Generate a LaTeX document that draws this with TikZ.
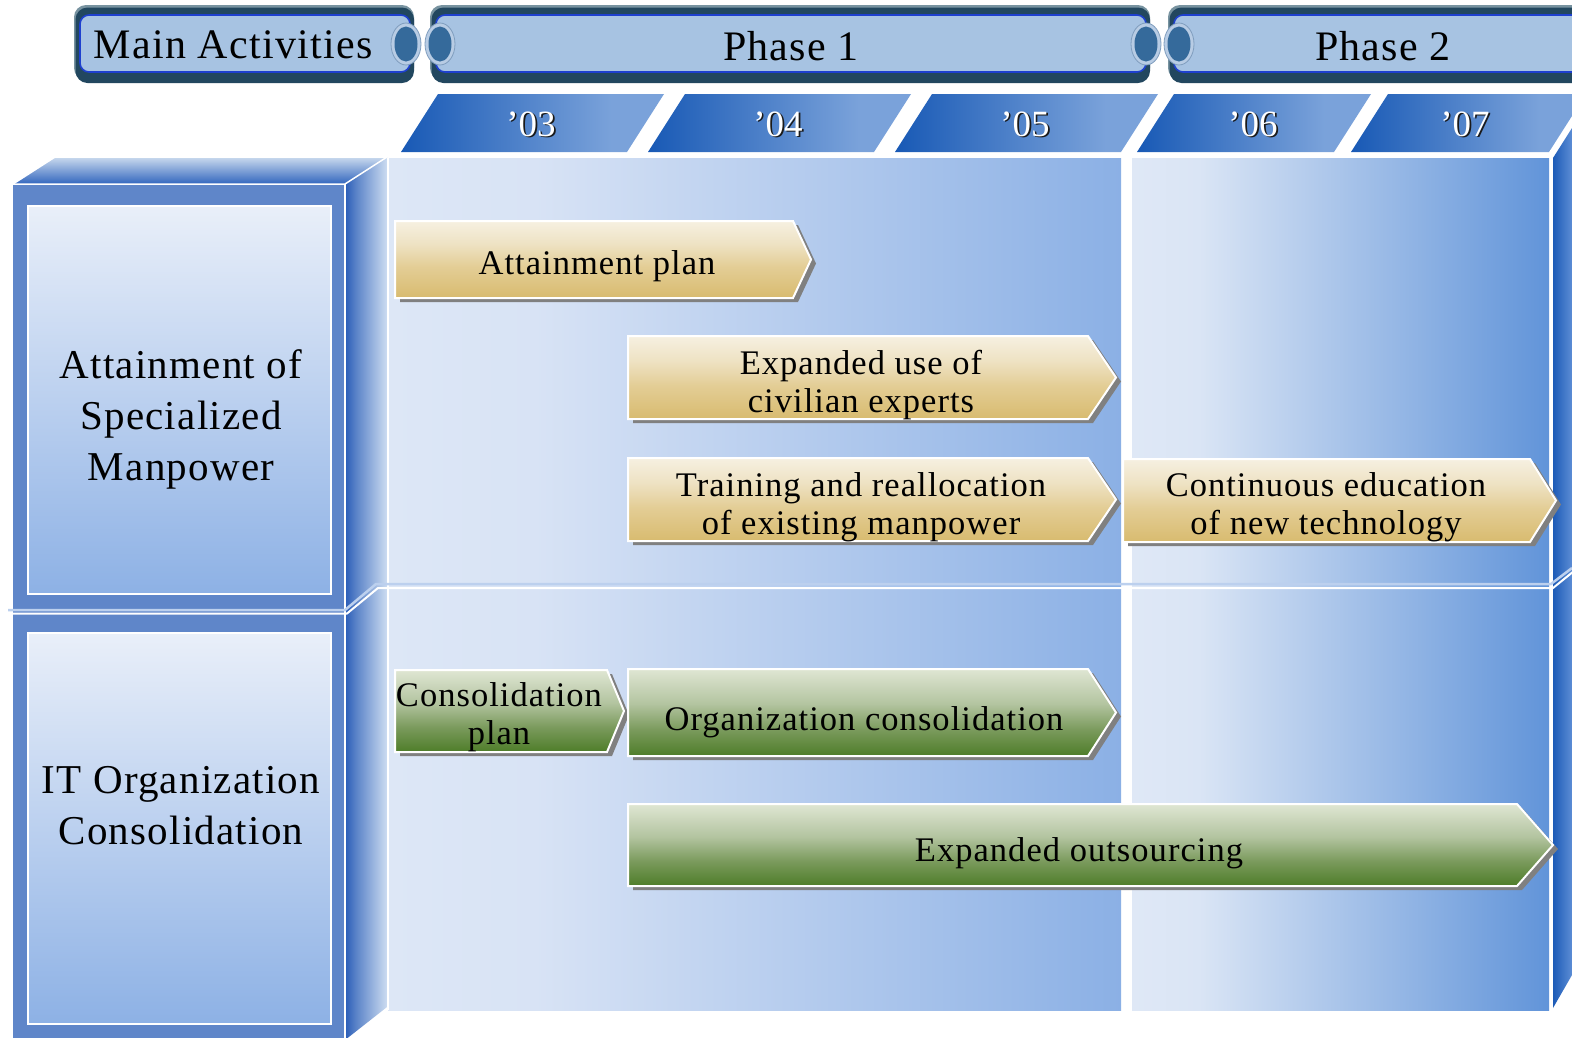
\documentclass[tikz,border=0pt]{standalone}
\usepackage{fontspec}
\setmainfont{Liberation Serif}[LetterSpace=3]
\newfontfamily\yearfont{Liberation Serif}
\usetikzlibrary{calc}

\definecolor{hdrHi}{HTML}{7893A0}
\definecolor{hdrDark}{HTML}{22475F}
\definecolor{hdrFill}{HTML}{A7C3E2}
\definecolor{hdrLine}{HTML}{1E40CF}
\definecolor{ringC}{HTML}{B8CCE4}
\definecolor{ringEdge}{HTML}{7F9DBE}
\definecolor{ellC}{HTML}{356A9B}
\definecolor{pA1}{HTML}{DDE7F6}
\definecolor{pA2}{HTML}{D8E3F5}
\definecolor{pA3}{HTML}{8BB0E5}
\definecolor{pB1}{HTML}{DFE8F6}
\definecolor{pB2}{HTML}{DAE5F5}
\definecolor{pB3}{HTML}{6194D9}
\definecolor{tab1}{HTML}{1859B5}
\definecolor{tab2}{HTML}{7AA2DA}
\definecolor{frontBlue}{HTML}{5F86C9}
\definecolor{inTop}{HTML}{E9EFF9}
\definecolor{inBot}{HTML}{8DB1E5}
\definecolor{topTop}{HTML}{CADAEE}
\definecolor{topBot}{HTML}{3266BE}
\definecolor{side1}{HTML}{2A5DB8}
\definecolor{side2}{HTML}{5A83C8}
\definecolor{side3}{HTML}{CCDCF1}
\definecolor{rf1}{HTML}{1D5BB7}
\definecolor{rf2}{HTML}{5C8DD5}
\definecolor{gold1}{HTML}{D8BB6F}
\definecolor{gold2}{HTML}{E3CD95}
\definecolor{gold3}{HTML}{EEE2C3}
\definecolor{gold4}{HTML}{F6F0E1}
\definecolor{green1}{HTML}{4E7D29}
\definecolor{green2}{HTML}{7A9A5C}
\definecolor{green3}{HTML}{B3C4A0}
\definecolor{green4}{HTML}{DFE6D3}
\definecolor{shadowGray}{HTML}{808080}
\definecolor{divBlue}{HTML}{BCD0EE}
\definecolor{yearShadow}{HTML}{1A1A1A}

\pgfdeclarehorizontalshading{phaseAsh}{100bp}{color(0bp)=(pA1); color(25bp)=(pA1); color(35bp)=(pA2); color(75bp)=(pA3); color(100bp)=(pA3)}
\pgfdeclarehorizontalshading{phaseBsh}{100bp}{color(0bp)=(pB1); color(25bp)=(pB1); color(33bp)=(pB2); color(75bp)=(pB3); color(100bp)=(pB3)}
\pgfdeclarehorizontalshading{tabsh}{100bp}{color(0bp)=(tab1); color(25bp)=(tab1); color(65bp)=(tab2); color(100bp)=(tab2)}
\pgfdeclareverticalshading{innersh}{100bp}{color(0bp)=(inBot); color(25bp)=(inBot); color(75bp)=(inTop); color(100bp)=(inTop)}
\pgfdeclareverticalshading{topfacesh}{100bp}{color(0bp)=(topBot); color(25bp)=(topBot); color(75bp)=(topTop); color(100bp)=(topTop)}
\pgfdeclarehorizontalshading{sidesh}{100bp}{color(0bp)=(side1); color(25bp)=(side1); color(38bp)=(side2); color(75bp)=(side3); color(100bp)=(side3)}
\pgfdeclarehorizontalshading{rightsh}{100bp}{color(0bp)=(rf1); color(25bp)=(rf1); color(75bp)=(rf2); color(100bp)=(rf2)}
\pgfdeclareverticalshading{goldsh}{100bp}{color(0bp)=(gold1); color(25bp)=(gold1); color(45bp)=(gold2); color(60bp)=(gold3); color(75bp)=(gold4); color(100bp)=(gold4)}
\pgfdeclareverticalshading{greensh}{100bp}{color(0bp)=(green1); color(25bp)=(green1); color(40bp)=(green2); color(55bp)=(green3); color(75bp)=(green4); color(100bp)=(green4)}

\newcommand\tlarrow[6]{%
  \fill[shadowGray, xshift=5pt, yshift=-4pt] (#1,#2) -- (#4,#2) -- (#5,{(#2+#3)/2}) -- (#4,#3) -- (#1,#3) -- cycle;
  \shadedraw[#6] (#1,#2) -- (#4,#2) -- (#5,{(#2+#3)/2}) -- (#4,#3) -- (#1,#3) -- cycle;
}

\begin{document}
\begin{tikzpicture}[x=1pt,y=-1pt,
  hdrtext/.style={inner sep=0pt, font=\fontsize{42}{50}\selectfont, text=black},
  boxtext/.style={inner sep=0pt, align=center, font=\fontsize{41}{51}\selectfont, text=black},
  arrtext/.style={inner sep=0pt, align=center, font=\fontsize{34.5}{38}\selectfont, text=black},
  yeartext/.style={inner sep=0pt, font=\yearfont\fontsize{37}{40}\selectfont, text=white},
  yearshadow/.style={inner sep=0pt, font=\yearfont\fontsize{37}{40}\selectfont, text=yearShadow},
  goldarrow/.style={shading=goldsh, draw=white, line width=2pt, line join=miter},
  greenarrow/.style={shading=greensh, draw=white, line width=2pt, line join=miter}
]
\useasboundingbox (0,0) rectangle (1572,1037);
\fill[white] (0,0) rectangle (1572,1037);
\clip (0,0) rectangle (1572,1037);

% ---------- header bars ----------
\foreach \xa/\xb in {74/414, 430/1150, 1168/1620} {
  \fill[hdrHi, rounded corners=12pt] (\xa,5) rectangle (\xb,80);
  \fill[hdrDark, rounded corners=12pt] (\xa+1.5,7.5) rectangle (\xb,83);
  \filldraw[fill=hdrFill, draw=hdrLine, line width=1.6pt, rounded corners=9pt] (\xa+6,15) rectangle (\xb-4,72);
}
\foreach \cx in {406,440,1146,1179} {
  \filldraw[fill=ringC, draw=ringEdge, line width=0.8pt] (\cx,44) ellipse [x radius=15, y radius=21];
  \fill[ellC] (\cx,44) ellipse [x radius=11.5, y radius=17.5];
}
\node[hdrtext] (hMain) at (233,45) {Main Activities};
\node[hdrtext] (hP1) at (791,46) {Phase 1};
\node[hdrtext] (hP2) at (1383,46) {Phase 2};

% ---------- year tabs ----------
\foreach \bl/\w in {401/226, 648/226, 895/226, 1137/197, 1351/198} {
  \shade[shading=tabsh] (\bl,152) -- (\bl+37,94) -- (\bl+37+\w,94) -- (\bl+\w,152) -- cycle;
}
\foreach \cx/\yr/\nm in {531/03/a, 778/04/b, 1025/05/c, 1253/06/d, 1465/07/e} {
  \node[yearshadow] (ys\nm) at (\cx+1.6,125.6) {’\yr};
  \node[yeartext] (yt\nm) at (\cx,124) {’\yr};
}

% ---------- left 3D boxes ----------
\fill[frontBlue] (13,184) rectangle (345,1040);
\shade[shading=topfacesh] (13,184) -- (55,157) -- (387,157) -- (345,184) -- cycle;
\shade[shading=sidesh] (345,184) -- (387,157) -- (387,1007) -- (345,1040) -- cycle;
\draw[white, line width=1.5pt, line join=round] (13,184) -- (55,157) -- (387,157);
\draw[white, line width=1.5pt] (13,184) -- (345,184) -- (387,157);
\draw[white, line width=1.2pt] (345,184) -- (345,1040);
\shadedraw[shading=innersh, draw=white, line width=2pt] (28,206) rectangle (331,594);
\shadedraw[shading=innersh, draw=white, line width=2pt] (28,633) rectangle (331,1024);
\node[boxtext] (bAtt) at (181,419) {Attainment of\\Specialized\\Manpower};
\node[boxtext] (bIT) at (181,806) {IT Organization\\Consolidation};

% ---------- phase panels ----------
\shade[shading=phaseAsh] (388,158) rectangle (1121,1010);
\shade[shading=phaseBsh] (1132,158) rectangle (1549,1010);
\draw[white, line width=2pt] (388,158) -- (388,1010);
\shade[shading=rightsh] (1553,158) -- (1572,128) -- (1572,975) -- (1553,1008) -- cycle;
\draw[white, line width=2pt] (1551,150) -- (1551,1012);

% divider
\draw[divBlue, line width=2.5pt] (8,610) -- (345,610) -- (376,584) -- (1551,584) -- (1572,568);
\draw[white, line width=2pt] (8,613.5) -- (347,613.5) -- (378,588) -- (1553,588) -- (1574,571);

% ---------- activity arrows ----------
\tlarrow{395}{221}{298}{793}{811}{goldarrow}
\tlarrow{628}{336}{419}{1088}{1116}{goldarrow}
\tlarrow{628}{458}{541}{1088}{1116}{goldarrow}
\tlarrow{1123}{459}{542}{1530}{1556}{goldarrow}
\tlarrow{395}{670}{752}{607}{624}{greenarrow}
\tlarrow{628}{669}{756}{1088}{1116}{greenarrow}
\tlarrow{628}{804}{886}{1517}{1553}{greenarrow}

\node[arrtext] (aAtt) at (597,266) {Attainment plan};
\node[arrtext] (aExp) at (861,385) {Expanded use of\\civilian experts};
\node[arrtext] (aTrain) at (861,507) {Training and reallocation\\of existing manpower};
\node[arrtext] (aCont) at (1326,507) {Continuous education\\of new technology};
\node[arrtext] (aCons) at (499,717) {Consolidation\\plan};
\node[arrtext] (aOrg) at (864,722) {Organization consolidation};
\node[arrtext] (aOut) at (1079,853) {Expanded outsourcing};
\end{tikzpicture}
\end{document}
